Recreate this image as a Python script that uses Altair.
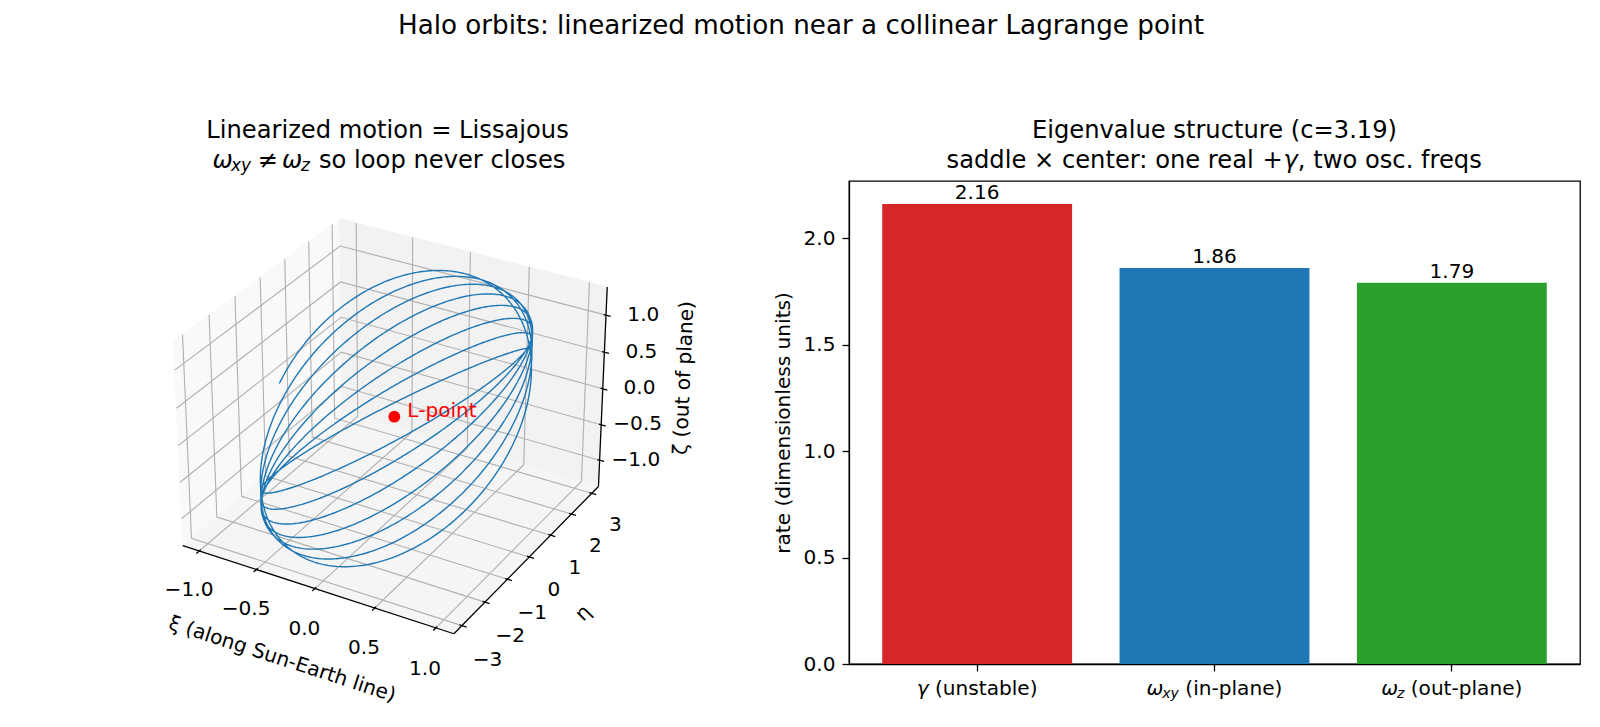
import numpy as np
import pandas as pd
import altair as alt

alt.data_transformers.disable_max_rows()

FONT = "DejaVu Sans"

# ---------------- values ----------------
jacobi_c = 3.19
rate_keys = ["gamma", "omega_xy", "omega_z"]
rate_values = [2.16, 1.86, 1.79]
bar_colors = ["#d62728", "#1f77b4", "#2ca02c"]
rate_ticks = [0.0, 0.5, 1.0, 1.5, 2.0]

# Lissajous orbit: in-plane xi amplitude, out-of-plane zeta amplitude, time span
amp_xi = 1.0
amp_zeta = 1.2
t_end = 25.0
n_samples = 2500

xi_ticks = [-1.0, -0.5, 0.0, 0.5, 1.0]
xi_tick_labels = ["−1.0", "−0.5", "0.0", "0.5", "1.0"]
eta_ticks = [-3.0, -2.0, -1.0, 0.0, 1.0, 2.0, 3.0]
eta_tick_labels = ["−3", "−2", "−1", "0", "1", "2", "3"]
zeta_ticks = [-1.0, -0.5, 0.0, 0.5, 1.0]
zeta_tick_labels = ["−1.0", "−0.5", "0.0", "0.5", "1.0"]

# ---------------- text sizes (px) ----------------
TICK_PX = 20.1
TITLE_PX = 24.2
SUP_PX = 26.2
SUB = 0.7

# ---------------- page layout (px) ----------------
PANEL_TOP = 180
LEFT_W, LEFT_H = 700, 547
RIGHT_X0 = 848
RIGHT_W, RIGHT_H = 731, 483
VIEW_LIM = (-0.095, 0.09)          # 2-D window of the 3-D axes
AX3D_LEFT, AX3D_TOP, AX3D_SIZE = 135.0, 171.0, 503.0
px_per_unit = AX3D_SIZE / (VIEW_LIM[1] - VIEW_LIM[0])
origin_x = AX3D_LEFT - VIEW_LIM[0] * px_per_unit
origin_y = AX3D_TOP + VIEW_LIM[1] * px_per_unit
x_domain = [(0 - origin_x) / px_per_unit, (LEFT_W - origin_x) / px_per_unit]
y_domain = [(origin_y - (PANEL_TOP + LEFT_H)) / px_per_unit,
            (origin_y - PANEL_TOP) / px_per_unit]

# ---------------- orbit ----------------
w_xy, w_z = rate_values[1], rate_values[2]
kappa = (w_xy ** 2 + 1.0 + 2.0 * jacobi_c) / (2.0 * w_xy)
t = np.linspace(0.0, t_end, n_samples)
xi = -amp_xi * np.cos(w_xy * t)
eta = kappa * amp_xi * np.sin(w_xy * t)
zeta = amp_zeta * np.sin(w_z * t)


def axis_limits(v):
    lo, hi = float(np.min(v)), float(np.max(v))
    r = hi - lo
    lo, hi = lo - 0.05 * r, hi + 0.05 * r
    pad = (hi - lo) / 48.0
    return lo - pad, hi + pad


lims = [axis_limits(xi), axis_limits(eta), axis_limits(zeta)]
(x0, x1), (y0, y1), (z0, z1) = lims
deltas = [(x1 - x0) / 12.0, (y1 - y0) / 12.0, (z1 - z0) / 12.0]

# perspective camera: elev 30, azim -60, distance 10, box aspect 4:4:3
ELEV, AZIM, DIST = 30.0, -60.0, 10.0
box = np.array([4.0, 4.0, 3.0])
box *= 1.8294640721620434 / np.linalg.norm(box)
e_r, a_r = np.radians(ELEV), np.radians(AZIM)
w_vec = np.array([np.cos(e_r) * np.cos(a_r), np.cos(e_r) * np.sin(a_r), np.sin(e_r)])
eye = box / 2 + DIST * w_vec
u_vec = np.cross([0.0, 0.0, 1.0], w_vec)
u_vec /= np.linalg.norm(u_vec)
v_vec = np.cross(w_vec, u_vec)


def proj(x, y, z):
    x = np.atleast_1d(np.asarray(x, float))
    y = np.atleast_1d(np.asarray(y, float))
    z = np.atleast_1d(np.asarray(z, float))
    x, y, z = np.broadcast_arrays(x, y, z)
    p = np.stack([(x - x0) / (x1 - x0) * box[0],
                  (y - y0) / (y1 - y0) * box[1],
                  (z - z0) / (z1 - z0) * box[2]], axis=1)
    d = p - eye
    depth = -(d @ w_vec)
    return (d @ u_vec) / depth, (d @ v_vec) / depth


def poly_rows(pts, **tags):
    P = np.array(pts, float)
    px, py = proj(P[:, 0], P[:, 1], P[:, 2])
    return [dict(ord=k, px=a, py=b, **tags) for k, (a, b) in enumerate(zip(px, py))]


# panes
pane_defs = [
    ("x", "#f9f9f9", [(x0, y0, z0), (x0, y1, z0), (x0, y1, z1), (x0, y0, z1), (x0, y0, z0)]),
    ("y", "#f2f2f2", [(x0, y1, z0), (x1, y1, z0), (x1, y1, z1), (x0, y1, z1), (x0, y1, z0)]),
    ("z", "#f5f5f5", [(x0, y0, z0), (x1, y0, z0), (x1, y1, z0), (x0, y1, z0), (x0, y0, z0)]),
]

# grid lines across two panes
grid_rows = []
for i, tx in enumerate(xi_ticks):
    grid_rows += poly_rows([(tx, y0, z0), (tx, y1, z0), (tx, y1, z1)], gid=f"x{i}")
for i, ty in enumerate(eta_ticks):
    grid_rows += poly_rows([(x0, ty, z1), (x0, ty, z0), (x1, ty, z0)], gid=f"y{i}")
for i, tz in enumerate(zeta_ticks):
    grid_rows += poly_rows([(x1, y1, tz), (x0, y1, tz), (x0, y0, tz)], gid=f"z{i}")
grid_df = pd.DataFrame(grid_rows)

# axis lines
axis_rows = (poly_rows([(x0, y0, z0), (x1, y0, z0)], gid="xi")
             + poly_rows([(x1, y0, z0), (x1, y1, z0)], gid="eta")
             + poly_rows([(x1, y1, z0), (x1, y1, z1)], gid="zeta"))
axis_df = pd.DataFrame(axis_rows)

# tick marks and tick labels
dx, dy, dz = deltas
TICK_OUT, TICK_IN = 0.2, 0.1
AXIS_LABEL_SHIFT = 2.4

tick_rows, ticklab_rows = [], []


def add_tick(p_out, p_in, p_lab, text):
    a = proj(*p_out)
    b = proj(*p_in)
    c = proj(*p_lab)
    tick_rows.append(dict(px=a[0][0], py=a[1][0], px2=b[0][0], py2=b[1][0]))
    ticklab_rows.append(dict(px=c[0][0], py=c[1][0], label=text))


for tx, lab in zip(xi_ticks, xi_tick_labels):
    add_tick((tx, y0 - TICK_OUT * dy, z0), (tx, y0 + TICK_IN * dy, z0),
             (tx, y0 - 0.8 * dy, z0 - 1.8 * dz), lab)
for ty, lab in zip(eta_ticks, eta_tick_labels):
    add_tick((x1 + TICK_OUT * dx, ty, z0), (x1 - TICK_IN * dx, ty, z0),
             (x1 + 1.1 * dx, ty, z0 - 1.55 * dz), lab)
for tz, lab in zip(zeta_ticks, zeta_tick_labels):
    add_tick((x1 + TICK_OUT * dx, y1, tz), (x1 - TICK_IN * dx, y1, tz),
             (x1 + 1.23 * dx, y1 + 0.77 * dy, tz), lab)
tick_df = pd.DataFrame(tick_rows)
ticklab_df = pd.DataFrame(ticklab_rows)


def screen_angle(pa, pb):
    ax_, ay_ = proj(*pa)
    bx_, by_ = proj(*pb)
    ang = np.degrees(np.arctan2(-(by_[0] - ay_[0]), bx_[0] - ax_[0]))
    if ang > 90:
        ang -= 180
    if ang <= -90:
        ang += 180
    return float(ang % 360)


S = AXIS_LABEL_SHIFT
axis_label_defs = [
    ("ξ (along Sun-Earth line)", ((x0 + x1) / 2, y0 - S * dy, z0 - S * dz),
     screen_angle((x0, y0, z0), (x1, y0, z0))),
    ("η", (x1 + S * dx, (y0 + y1) / 2, z0 - S * dz),
     screen_angle((x1, y0, z0), (x1, y1, z0))),
    ("ζ (out of plane)", (x1 + S * dx, y1 + S * dy, (z0 + z1) / 2),
     screen_angle((x1, y1, z0), (x1, y1, z1))),
]

cx, cy = proj(xi, eta, zeta)
curve_df = pd.DataFrame({"i": np.arange(len(t)), "px": cx, "py": cy})
lp = proj(0.0, 0.0, 0.0)
lpoint_df = pd.DataFrame({"px": lp[0], "py": lp[1]})

# ---------------- left panel: 3-D view ----------------
xs = alt.Scale(domain=x_domain, nice=False, zero=False)
ys = alt.Scale(domain=y_domain, nice=False, zero=False)
PX = alt.X("px:Q", scale=xs, axis=None)
PY = alt.Y("py:Q", scale=ys, axis=None)
ONE = pd.DataFrame({"k": [0]})


def text_at(text, x, y, size, italic=False, align="left", color="black",
            baseline="alphabetic"):
    kw = dict(text=text, align=align, baseline=baseline, font=FONT,
              fontSize=size, color=color)
    if italic:
        kw["fontStyle"] = "italic"
    return alt.Chart(ONE).mark_text(**kw).encode(x=alt.value(x), y=alt.value(y))


layers = []
for name, col, pts in pane_defs:
    df = pd.DataFrame(poly_rows(pts, pane=name))
    layers.append(alt.Chart(df).mark_line(fill=col, stroke=col, strokeWidth=1)
                  .encode(x=PX, y=PY, order="ord:Q"))
layers.append(alt.Chart(grid_df).mark_line(color="#b0b0b0", strokeWidth=1.1)
              .encode(x=PX, y=PY, detail="gid:N", order="ord:Q"))
layers.append(alt.Chart(axis_df).mark_line(color="black", strokeWidth=1.3)
              .encode(x=PX, y=PY, detail="gid:N", order="ord:Q"))
layers.append(alt.Chart(tick_df).mark_rule(color="black", strokeWidth=1.3)
              .encode(x=PX, y=PY, x2="px2:Q", y2="py2:Q"))
layers.append(alt.Chart(ticklab_df).mark_text(font=FONT, fontSize=TICK_PX,
                                              align="center", baseline="middle")
              .encode(x=PX, y=PY, text="label:N"))
for text, pos, ang in axis_label_defs:
    a = proj(*pos)
    df = pd.DataFrame({"px": a[0], "py": a[1]})
    layers.append(alt.Chart(df).mark_text(text=text, font=FONT, fontSize=TICK_PX,
                                          align="center", baseline="middle", angle=ang)
                  .encode(x=PX, y=PY))
layers.append(alt.Chart(curve_df).mark_line(color="#1f77b4", strokeWidth=1.4)
              .encode(x=PX, y=PY, order="i:Q"))
layers.append(alt.Chart(lpoint_df).mark_circle(color="red", size=140, opacity=1)
              .encode(x=PX, y=PY))
layers.append(alt.Chart(lpoint_df).mark_text(text="L-point", color="red", font=FONT,
                                             fontSize=TICK_PX, align="left",
                                             baseline="alphabetic", dx=13)
              .encode(x=PX, y=PY))

# panel title (two lines, second with subscripted omegas)
T1 = 137.3 - PANEL_TOP
T2 = 166.7 - PANEL_TOP
left_cx = AX3D_LEFT + AX3D_SIZE / 2
layers.append(text_at("Linearized motion = Lissajous", left_cx, T1, TITLE_PX, align="center"))
sub_drop = 0.14 * TITLE_PX
title2_pieces = [
    ("ω", -175.0, 0, TITLE_PX, True),
    ("xy", -156.5, sub_drop, TITLE_PX * SUB, True),
    ("≠", -130.0, 0, TITLE_PX, False),
    ("ω", -105.5, 0, TITLE_PX, True),
    ("z", -86.5, sub_drop, TITLE_PX * SUB, True),
    ("so loop never closes", -68.5, 0, TITLE_PX, False),
]
for txt, off, drop, size, it in title2_pieces:
    layers.append(text_at(txt, left_cx + off, T2 + drop, size, italic=it))

# figure title
layers.append(text_at("Halo orbits: linearized motion near a collinear Lagrange point",
                      800, 33.3 - PANEL_TOP, SUP_PX, align="center"))
# top-left page anchor
layers.append(alt.Chart(ONE).mark_rect(color="white").encode(
    x=alt.value(0), x2=alt.value(1), y=alt.value(-PANEL_TOP), y2=alt.value(-PANEL_TOP + 1)))

left = alt.layer(*layers).properties(
    width=LEFT_W, height=LEFT_H, view=alt.ViewBackground(stroke="transparent"))

# ---------------- right panel: eigenvalue bars ----------------
bars_df = pd.DataFrame({"key": rate_keys, "value": rate_values, "color": bar_colors})
y_top = max(rate_values) * 1.05
xsc = alt.Scale(domain=rate_keys, paddingInner=0.2, paddingOuter=0.14)
ysc = alt.Scale(domain=[0, y_top], nice=False, zero=True)
x_axis = alt.Axis(labels=False, title=None, ticks=True, tickSize=7, tickWidth=1.3,
                  tickColor="black", domainColor="black", domainWidth=1.3, grid=False)
y_axis = alt.Axis(values=rate_ticks, format=".1f", title="rate (dimensionless units)",
                  grid=False, tickSize=7, tickWidth=1.3, tickColor="black",
                  labelPadding=7, labelFont=FONT, labelFontSize=TICK_PX, labelColor="black",
                  domainColor="black", domainWidth=1.3, titleFont=FONT,
                  titleFontSize=TICK_PX, titleFontWeight="normal", titleColor="black",
                  titlePadding=9.6)
BX = alt.X("key:N", scale=xsc, sort=rate_keys, axis=x_axis)
BY = alt.Y("value:Q", scale=ysc, axis=y_axis)

base = alt.Chart(bars_df)
rlayers = [
    base.mark_bar().encode(x=BX, y=BY, color=alt.Color("color:N", scale=None)),
    base.mark_text(font=FONT, fontSize=TICK_PX, baseline="alphabetic", dy=-5.2)
        .encode(x=BX, y=BY, text=alt.Text("value:Q", format=".2f")),
]

# glyph advances (em) for laying out multi-style labels
ADV = {" ": .318, "(": .390, ")": .390, "-": .361, "a": .613, "b": .635, "e": .615,
       "i": .278, "l": .278, "n": .634, "o": .612, "p": .635, "s": .521, "t": .392,
       "u": .634, "x": .592, "y": .592, "z": .525, "γ": .592, "ω": .78, "×": .838,
       "+": .838, ":": .337, "c": .550, "d": .635, "r": .411, ",": .318, "w": .818,
       ".": .318, "f": .352, "q": .635}


def text_width(s, size):
    return sum(ADV.get(ch, 0.6) for ch in s) * size


def lead_space(s, size):
    n = len(s) - len(s.lstrip(" "))
    return n * ADV[" "] * size


XL_Y = 694 - PANEL_TOP
cat_labels = {
    "gamma": [("γ", 1.0, True), (" (unstable)", 1.0, False)],
    "omega_xy": [("ω", 1.0, True), ("xy", SUB, True), (" (in-plane)", 1.0, False)],
    "omega_z": [("ω", 1.0, True), ("z", SUB, True), (" (out-plane)", 1.0, False)],
}
for key, pieces in cat_labels.items():
    total = sum(text_width(p, TICK_PX * sc) for p, sc, _ in pieces)
    pos = -total / 2
    for p, sc, it in pieces:
        size = TICK_PX * sc
        kw = dict(text=p.lstrip(" "), font=FONT, fontSize=size, align="left",
                  baseline="alphabetic", dx=pos + lead_space(p, size),
                  dy=(0.14 * TICK_PX if sc < 1 else 0))
        if it:
            kw["fontStyle"] = "italic"
        rlayers.append(base.transform_filter(alt.datum.key == key).mark_text(**kw)
                       .encode(x=BX, y=alt.value(XL_Y)))
        pos += text_width(p, size)


def rtext(text, x, y, size, italic=False, align="left"):
    kw = dict(text=text, align=align, baseline="alphabetic", font=FONT, fontSize=size,
              color="black")
    if italic:
        kw["fontStyle"] = "italic"
    return alt.Chart(ONE).mark_text(**kw).encode(x=alt.value(x), y=alt.value(y))


right_cx = RIGHT_W / 2
rlayers.append(rtext("Eigenvalue structure (c=3.19)", right_cx, T1, TITLE_PX, align="center"))
line2 = [("saddle × center: one real ", False, 0.0), ("+", False, 0.03), ("γ", True, 0.0),
         (", two osc. freqs", False, 0.0)]
line2_w = sum(text_width(s, TITLE_PX) + g * TITLE_PX for s, _, g in line2)
pos = right_cx - line2_w / 2
for s, it, g in line2:
    rlayers.append(rtext(s.rstrip(" "), pos, T2, TITLE_PX, italic=it))
    pos += text_width(s, TITLE_PX) + g * TITLE_PX

right = alt.layer(*rlayers).properties(
    width=RIGHT_W, height=RIGHT_H,
    view=alt.ViewBackground(stroke="black", strokeWidth=1.3))

chart = alt.hconcat(left, right, spacing=RIGHT_X0 - LEFT_W, bounds="flush").properties(
    padding=0).configure(font=FONT)

chart.save("out.html", embed_options={"renderer": "svg", "actions": False})
